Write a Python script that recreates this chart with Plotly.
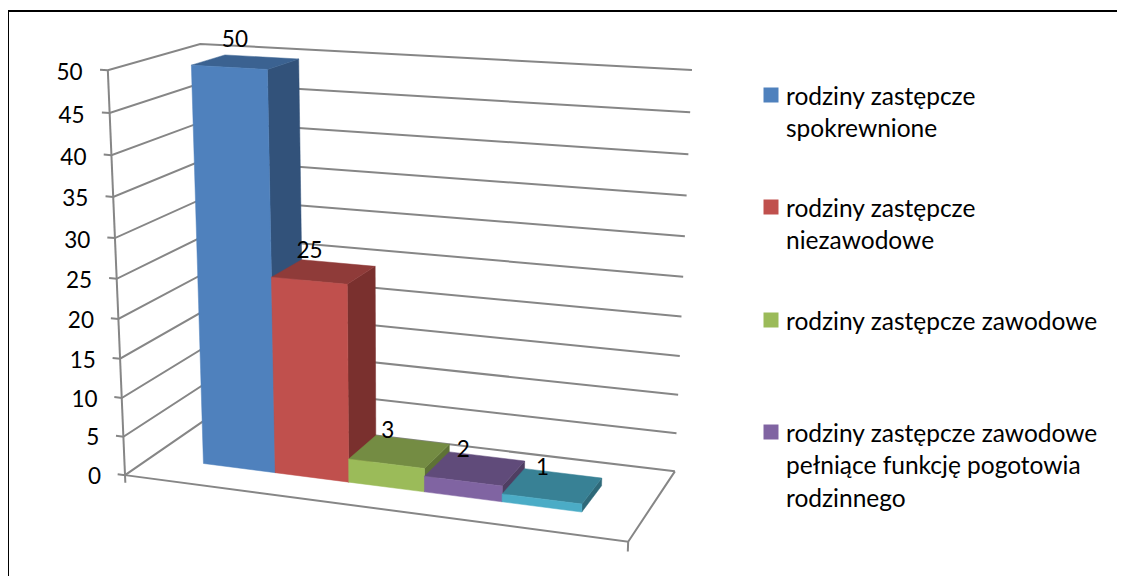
import numpy as np
import plotly.graph_objects as go

# ---- data ----
categories = [
    "rodziny zastępcze<br>spokrewnione",
    "rodziny zastępcze<br>niezawodowe",
    "rodziny zastępcze zawodowe",
    "rodziny zastępcze zawodowe<br>pełniące funkcję pogotowia<br>rodzinnego",
]
series_values = [50, 25, 3, 2, 1]
tick_values = [0, 5, 10, 15, 20, 25, 30, 35, 40, 45, 50]

# ---- styles ----
front_colors = ["#4F81BD", "#C0504D", "#9BBB59", "#8064A2", "#4BACC6"]
top_colors = ["#3B6291", "#8F3B39", "#748C43", "#604B7A", "#388195"]
side_colors = ["#32527A", "#7A302E", "#5E7236", "#4E3E62", "#2E6979"]
GRID = "#868686"
FONT = "Lato"
TICK_SIZE = 22.5
LEG_SIZE = 24.5
U_START, U_STEP = 0.114, 0.1542
W_FRONT, W_BACK = 0.29, 0.67
LABEL_DX = [10, 8, 12, 14, 18]
LABEL_DY = [-14, -7, -3, -1, 1]
TICK_DY = 6
VMAX = 50.0
PAGE_INSET = 8  # the page body keeps its default margin

# ---- perspective camera: (u, value, depth) -> page pixels, fitted by DLT ----
calib = [
    ((0, 0, 0), (125, 475)), ((0, 50, 0), (108, 70)),
    ((0, 0, 1), (211, 416)), ((0, 50, 1), (200, 44)),
    ((1, 0, 1), (675, 471)), ((1, 50, 1), (692, 70)),
    ((1, 0, 0), (628, 542)),
]
A, b = [], []
for (u, v, w), (x, y) in calib:
    t = v / VMAX
    A.append([u, t, w, 1, 0, 0, 0, 0, -x*u, -x*t, -x*w]); b.append(x)
    A.append([0, 0, 0, 0, u, t, w, 1, -y*u, -y*t, -y*w]); b.append(y)
P = np.linalg.lstsq(np.array(A, float), np.array(b, float), rcond=None)[0]
P = np.append(P, 1.0).reshape(3, 4)


def proj(u, v, w):
    h = P @ np.array([u, v / VMAX, w, 1.0])
    return h[0] / h[2], h[1] / h[2]


fig = go.Figure()


def line(points, width=2):
    xs, ys = zip(*[proj(*p) for p in points])
    fig.add_trace(go.Scatter(x=xs, y=ys, mode="lines", hoverinfo="skip",
                             line=dict(color=GRID, width=width)))


def face(points, color):
    xs, ys = zip(*[proj(*p) for p in points])
    fig.add_trace(go.Scatter(x=list(xs) + [xs[0]], y=list(ys) + [ys[0]], mode="lines",
                             fill="toself", fillcolor=color, hoverinfo="skip",
                             line=dict(color=color, width=0.5)))


# walls and floor
for v in tick_values:
    line([(-0.016, v, 0), (0, v, 0), (0, v, 1), (1, v, 1)])
line([(0, -1.0, 0), (0, 50, 0)])
line([(0, 0, 0), (1, 0, 0), (1, 0, 1)])
line([(1, 0, 0), (1, -1.2, 0)])

# bars
for i, val in enumerate(series_values):
    u0 = U_START + i * U_STEP
    u1 = u0 + U_STEP
    face([(u1, 0, W_FRONT), (u1, 0, W_BACK), (u1, val, W_BACK), (u1, val, W_FRONT)], side_colors[i])
    face([(u0, val, W_FRONT), (u1, val, W_FRONT), (u1, val, W_BACK), (u0, val, W_BACK)], top_colors[i])
    face([(u0, 0, W_FRONT), (u1, 0, W_FRONT), (u1, val, W_FRONT), (u0, val, W_FRONT)], front_colors[i])

# tick labels
tx, ty = zip(*[proj(-0.052, v, 0) for v in tick_values])
fig.add_trace(go.Scatter(x=tx, y=[t + TICK_DY for t in ty], mode="text", text=[str(v) for v in tick_values],
                         textposition="middle left", hoverinfo="skip",
                         textfont=dict(family=FONT, size=TICK_SIZE, color="#000000")))

# data labels
lx, ly = [], []
for i, val in enumerate(series_values):
    x, y = proj(U_START + i * U_STEP, val, W_BACK)
    lx.append(x + LABEL_DX[i]); ly.append(y + LABEL_DY[i])
fig.add_trace(go.Scatter(x=lx, y=ly, mode="text", text=[str(v) for v in series_values],
                         textposition="middle center", hoverinfo="skip",
                         textfont=dict(family=FONT, size=TICK_SIZE, color="#000000")))

# legend
LEG_SWATCH_X = 771
LEG_TEXT_X = 786
LEG_Y = [95, 207, 320, 432]
fig.add_trace(go.Scatter(x=[LEG_SWATCH_X] * 4, y=LEG_Y, mode="markers", hoverinfo="skip",
                         marker=dict(symbol="square", size=15, color=front_colors[:4], line=dict(width=0))))
for name, y0 in zip(categories, LEG_Y):
    for k, part in enumerate(name.split("<br>")):
        fig.add_annotation(x=LEG_TEXT_X, y=y0 + 32.5 * k, text=part, showarrow=False,
                           xanchor="left", yanchor="middle", xshift=-2,
                           font=dict(family=FONT, size=LEG_SIZE, color="#000000"))

# frame
fig.add_shape(type="rect", x0=8, y0=11, x1=1160, y1=600, line=dict(color="#000000", width=2))

fig.update_layout(width=1125, height=576, margin=dict(l=0, r=0, t=0, b=0), showlegend=False,
                  paper_bgcolor="#FFFFFF", plot_bgcolor="#FFFFFF",
                  xaxis=dict(range=[PAGE_INSET, 1125 + PAGE_INSET], visible=False, fixedrange=True),
                  yaxis=dict(range=[576 + PAGE_INSET, PAGE_INSET], visible=False, fixedrange=True))
fig.write_html("out.html", config={"displayModeBar": False})
